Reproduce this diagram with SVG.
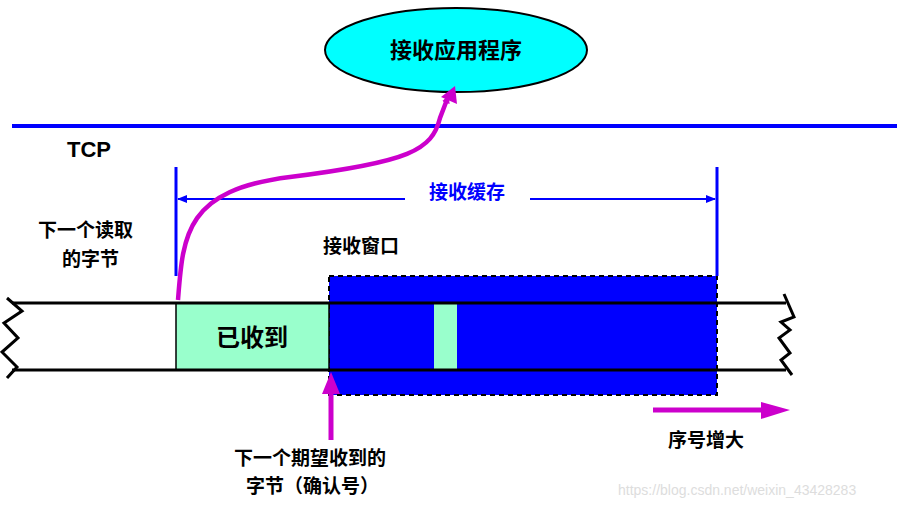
<svg xmlns="http://www.w3.org/2000/svg" width="898" height="507" viewBox="0 0 898 507">
<style>
text{font-family:"Noto Sans CJK SC","Liberation Sans",sans-serif;font-weight:bold;fill:#000}
.t{font-size:19px}
.mg{stroke:#cc00cc;fill:none;stroke-width:5}
.bk{stroke:#000;stroke-width:3;fill:none}
</style>
<defs>
<marker id="mh" markerWidth="8" markerHeight="8" refX="6" refY="4" orient="auto" markerUnits="userSpaceOnUse" viewBox="0 0 8 8"><path d="M0,0L8,4L0,8z" fill="#cc00cc"/></marker>
<marker id="bh" markerWidth="10" markerHeight="8" refX="9" refY="4" orient="auto-start-reverse" markerUnits="userSpaceOnUse"><path d="M0,0L10,4L0,8z" fill="#0000ff"/></marker>
</defs>
<g id="app"><ellipse cx="456" cy="50" rx="131" ry="42" fill="#00ffff" stroke="#000" stroke-width="2"/><text x="456" y="58" text-anchor="middle" style="font-size:22px">接收应用程序</text></g>
<g id="tcp"><line x1="12" y1="126" x2="897" y2="126" stroke="#0000ff" stroke-width="4"/><text x="67" y="157" style="font-size:22px;font-family:'Liberation Sans',sans-serif">TCP</text></g>
<g id="tape">
<rect x="329" y="276" width="388" height="119" fill="#0000ff" stroke="#000" stroke-width="2" stroke-dasharray="5,4"/>
<rect x="176" y="303" width="153" height="67" fill="#99ffcc" stroke="#000" stroke-width="1.5"/>
<rect x="434" y="303" width="23" height="67" fill="#99ffcc"/>
<line x1="12" y1="303" x2="786" y2="303" class="bk"/>
<line x1="12" y1="370" x2="786" y2="370" class="bk"/>
<polyline class="bk" points="7,298 22,311 4,323 18,338 2,352 17,367 7,378"/>
<polyline class="bk" points="784,294 794,317 781,322 790,330 779,338 790,353 781,360 792,375"/>
<text x="252" y="346" text-anchor="middle" style="font-size:24px">已收到</text>
</g>
<g id="buffer">
<line x1="176" y1="167" x2="176" y2="276" stroke="#0000ff" stroke-width="3"/>
<line x1="717" y1="167" x2="717" y2="276" stroke="#0000ff" stroke-width="3"/>
<line x1="178" y1="199" x2="405" y2="199" stroke="#0000ff" stroke-width="2" marker-start="url(#bh)"/>
<line x1="530" y1="199" x2="715" y2="199" stroke="#0000ff" stroke-width="2" marker-end="url(#bh)"/>
<text x="467" y="199" text-anchor="middle" class="t" style="fill:#0000ff">接收缓存</text>
</g>
<g id="connectors">
<path class="mg" d="M178,300 C183,235 185,190 290,177 C410,162 432,150 440,118 L448,97" marker-end="url(#mh)" style="stroke-width:4.5"/>
<path d="M441,97 L455,86 L457,104z" fill="#cc00cc"/>
<line x1="331" y1="440" x2="331" y2="392" stroke="#cc00cc" stroke-width="5"/>
<path d="M322,394 L331,372 L340,394z" fill="#cc00cc"/>
<line x1="653" y1="410" x2="765" y2="410" stroke="#cc00cc" stroke-width="5"/>
<path d="M761,402 L790,410 L761,419z" fill="#cc00cc"/>
</g>
<g id="labels">
<text x="38" y="237" class="t">下一个读取</text>
<text x="62" y="266" class="t">的字节</text>
<text x="323" y="253" class="t">接收窗口</text>
<text x="234" y="465" class="t">下一个期望收到的</text>
<text x="246" y="493" class="t">字节（确认号）</text>
<text x="668" y="447" class="t">序号增大</text>
<text x="618" y="495" style="font-family:'Liberation Sans',sans-serif;font-weight:normal;font-size:14px;fill:#dddddd">https://blog.csdn.net/weixin_43428283</text>
</g>
</svg>
